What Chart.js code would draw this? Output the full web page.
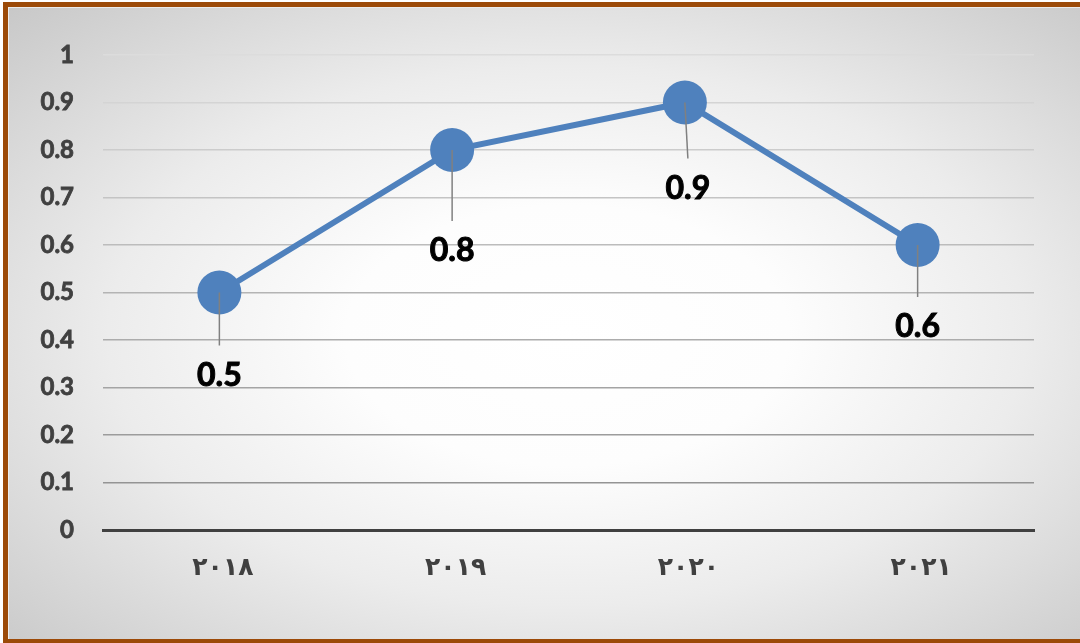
<!DOCTYPE html>
<html>
<head>
<meta charset="utf-8">
<script src="https://cdn.jsdelivr.net/npm/chart.js@4.4.0/dist/chart.umd.min.js"></script>
<style>
  html, body { margin: 0; padding: 0; background: #fff; overflow: hidden; }
  #frame {
    position: absolute;
    left: 3px;
    top: 2px;
    width: 1075px;
    height: 632px;
    border: 5px solid #9c4a08;
    background: radial-gradient(ellipse farthest-corner at 52% 52%, #ffffff 0%, #fdfdfd 28%, #ececec 58%, #c8c8c8 100%);
    box-shadow: inset 1px 1px 0 #ececec;
  }
  canvas { display: block; }
</style>
</head>
<body>
<div id="frame"><canvas id="chart" width="1075" height="632"></canvas></div>
<script>
const years = ['٢٠١٨', '٢٠١٩', '٢٠٢٠', '٢٠٢١'];
const values = [0.5, 0.8, 0.9, 0.6];
const yTickLabels = ['0', '0.1', '0.2', '0.3', '0.4', '0.5', '0.6', '0.7', '0.8', '0.9', '1'];

// how far below each point its value label sits, and a slight sideways lean of the leader line
const labelDrop = [83, 101, 86, 82];
const labelLean = [0, 0, 3, 0];

const blue = '#4f81bd';

// value labels hang under the points on thin grey leader lines
const valueLabels = {
    id: 'valueLabels',
    afterDatasetsDraw(chart) {
        const ctx = chart.ctx;
        const meta = chart.getDatasetMeta(0);
        ctx.save();
        meta.data.forEach((pt, i) => {
            const x = pt.x, y = pt.y;
            const lx = x + labelLean[i];
            const ly = y + labelDrop[i];
            ctx.strokeStyle = '#808080';
            ctx.lineWidth = 1.5;
            ctx.beginPath();
            ctx.moveTo(x, y);
            ctx.lineTo(lx, ly - 30);
            ctx.stroke();
            ctx.fillStyle = '#000';
            ctx.strokeStyle = '#000';
            ctx.lineWidth = 1;
            ctx.font = 'bold 32px Lato';
            ctx.textAlign = 'center';
            ctx.textBaseline = 'middle';
            ctx.fillText(String(values[i]), lx, ly);
            ctx.strokeText(String(values[i]), lx, ly);
        });
        ctx.restore();
    }
};

// spaced-out year labels under the axis
const yearLabels = {
    id: 'yearLabels',
    afterDraw(chart) {
        const ctx = chart.ctx;
        const xs = chart.scales.x;
        ctx.save();
        ctx.font = 'bold 25px "DejaVu Sans"';
        ctx.fillStyle = '#404040';
        ctx.textAlign = 'center';
        ctx.textBaseline = 'middle';
        ctx.letterSpacing = '7px';
        years.forEach((y, i) => {
            ctx.fillText(y, xs.getPixelForValue(i) + 3.5, chart.chartArea.bottom + 38);
        });
        ctx.restore();
    }
};

function gridShade(value) {
    if (value === 0) return 'rgba(0,0,0,0)';
    const g = Math.round(140 + 80 * value);
    return `rgb(${g},${g},${g})`;
}

new Chart(document.getElementById('chart'), {
    type: 'line',
    data: {
        labels: years,
        datasets: [{
            data: values,
            borderColor: blue,
            borderWidth: 6,
            backgroundColor: blue,
            pointBackgroundColor: blue,
            pointBorderWidth: 0,
            pointRadius: 22,
            pointHoverRadius: 22,
            tension: 0,
            fill: false
        }]
    },
    options: {
        responsive: false,
        animation: false,
        events: [],
        layout: { padding: { top: 48, right: 49, left: 0, bottom: 0 } },
        plugins: {
            legend: { display: false },
            tooltip: { enabled: false }
        },
        scales: {
            x: {
                offset: true,
                grid: { display: false, drawTicks: false },
                border: { display: true, color: '#404040', width: 3 },
                ticks: { display: false },
                afterFit(scale) { scale.height = 109; }
            },
            y: {
                min: 0,
                max: 1,
                grid: {
                    drawTicks: false,
                    lineWidth: 1.5,
                    color: c => gridShade(c.tick ? c.tick.value : 0)
                },
                border: { display: false },
                ticks: {
                    stepSize: 0.1,
                    padding: 29,
                    color: '#404040',
                    textStrokeColor: '#404040',
                    textStrokeWidth: 0.8,
                    font: { family: 'Lato', weight: 'bold', size: 24 },
                    callback: (v, i) => yTickLabels[i]
                },
                afterFit(scale) { scale.width = 95; }
            }
        }
    },
    plugins: [valueLabels, yearLabels]
});
</script>
</body>
</html>
